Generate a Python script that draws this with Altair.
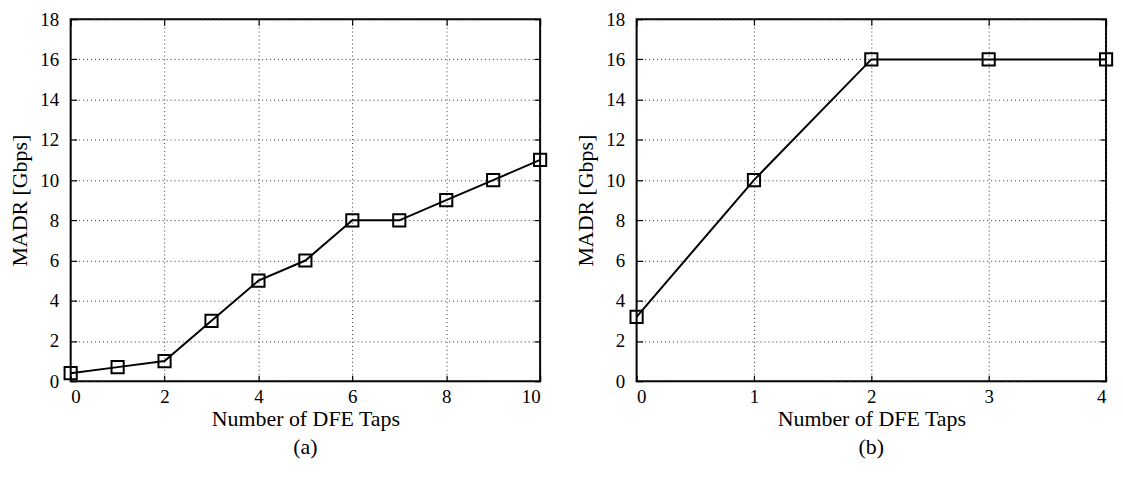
import altair as alt
import pandas as pd

taps_a = [0, 1, 2, 3, 4, 5, 6, 7, 8, 9, 10]
madr_a = [0.4, 0.7, 1.0, 3, 5, 6, 8, 8, 9, 10, 11]
taps_b = [0, 1, 2, 3, 4]
madr_b = [3.2, 10, 16, 16, 16]
y_ticks = [0, 2, 4, 6, 8, 10, 12, 14, 16, 18]
x_ticks_a = [0, 2, 4, 6, 8, 10]
x_ticks_b = [0, 1, 2, 3, 4]
x_title = "Number of DFE Taps"
y_title = "MADR [Gbps]"

FONT = "Liberation Serif"
TICK = 6


def panel(taps, madr, xticks, xmax, caption):
    df = pd.DataFrame({"taps": taps, "madr": madr})
    xs = alt.Scale(domain=[0, xmax], nice=False, zero=False)
    ys = alt.Scale(domain=[0, 18], nice=False)
    common = dict(labelFont=FONT, labelFontSize=19, labelColor="black",
                  titleFont=FONT, titleFontSize=22, titleFontWeight="normal",
                  titleColor="black", domain=False, ticks=True,
                  tickSize=TICK, offset=-TICK, tickColor="black", tickWidth=1.2)
    xa = alt.Axis(values=xticks, format="d", title=x_title, labelPadding=6,
                  titlePadding=3, grid=True, gridDash=[1, 3], gridColor="#333",
                  gridWidth=1, labelAngle=0, **common)
    ya = alt.Axis(values=y_ticks, format="d", title=y_title, labelPadding=12,
                  titlePadding=8, grid=True, gridDash=[1, 3], gridColor="#333",
                  gridWidth=1, **common)
    main = alt.Chart(df).mark_line(
        color="black", strokeWidth=2,
        point=alt.OverlayMarkDef(shape="square", filled=False, size=150,
                                 strokeWidth=2, color="black"),
    ).encode(
        x=alt.X("taps:Q", scale=xs, axis=xa),
        y=alt.Y("madr:Q", scale=ys, axis=ya),
    )
    xa2 = alt.Axis(values=xticks, orient="top", labels=False, title=None,
                   grid=False, domain=False, tickSize=TICK, offset=-TICK,
                   tickColor="black", tickWidth=1.2)
    ya2 = alt.Axis(values=y_ticks, orient="right", labels=False, title=None,
                   grid=False, domain=False, tickSize=TICK, offset=-TICK,
                   tickColor="black", tickWidth=1.2)
    ghost = alt.Chart(df).mark_point(opacity=0).encode(
        x=alt.X("taps:Q", scale=xs, axis=xa2),
        y=alt.Y("madr:Q", scale=ys, axis=ya2),
    )
    return alt.layer(main, ghost).resolve_axis(
        x="independent", y="independent"
    ).properties(
        width=472, height=364,
        title=alt.TitleParams(caption, orient="bottom", font=FONT, fontSize=22,
                              fontWeight="normal", color="black", offset=7),
    )


left = panel(taps_a, madr_a, x_ticks_a, 10, "(a)")
right = panel(taps_b, madr_b, x_ticks_b, 4, "(b)")

chart = alt.hconcat(left, right, spacing=22).configure_view(
    stroke="black", strokeWidth=2
).properties(
    padding={"left": 0, "top": 0, "right": -3, "bottom": 0},
    background="white",
)

chart.save("out.html", embed_options={"renderer": "svg", "actions": False})
